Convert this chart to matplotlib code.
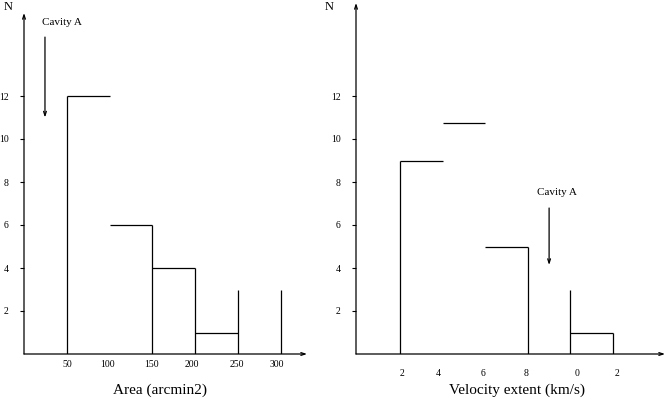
import matplotlib
matplotlib.use("Agg")
import matplotlib.pyplot as plt

plt.rcParams['font.family'] = ['Liberation Serif', 'DejaVu Serif']

# Left panel: area histogram (drawn as loose step segments)
area_bin_lo = [50, 100, 150, 200]
area_bin_hi = [100, 150, 200, 250]
area_counts = [12, 6, 4, 1]
area_vline_x = [50, 150, 200, 250, 300]
area_vline_h = [12, 6, 4, 3, 3]
area_tick_pos = [51, 98, 149, 196, 249, 295]
area_tick_lab = ['50', '100', '150', '200', '250', '300']

# Right panel: velocity extent histogram
vel_bin_lo = [12, 14, 16, 20]
vel_bin_hi = [14, 16, 18, 22]
vel_counts = [9, 10.75, 5, 1]
vel_vline_x = [12, 18, 20, 22]
vel_vline_h = [9, 5, 3, 1]
vel_tick_pos = [12.1, 13.8, 15.9, 17.9, 20.3, 22.2]
vel_tick_lab = ['2', '4', '6', '8', '0', '2']

y_ticks = [2, 4, 6, 8, 10, 12]

W, H = 666, 398
fig = plt.figure(figsize=(W / 100, H / 100), dpi=100)

ax1 = fig.add_axes([24 / W, 44 / H, 283 / W, 341 / H])
ax2 = fig.add_axes([356 / W, 44 / H, 309 / W, 351 / H])

ax1.set_xlim(0, 330.6)
ax1.set_ylim(0, 341 / 21.5)
ax2.set_xlim(9.934, 9.934 + 309 / 21.3)
ax2.set_ylim(0, 351 / 21.5)

lw = 0.9
arrow = dict(arrowstyle='->,head_length=0.3,head_width=0.1', lw=lw, color='black',
             shrinkA=0, shrinkB=0)

for ax in (ax1, ax2):
    for s in ax.spines.values():
        s.set_visible(False)
    ax.patch.set_visible(False)
    x0, x1 = ax.get_xlim()
    y0, y1 = ax.get_ylim()
    ax.annotate('', xy=(x1, 0), xytext=(x0, 0), arrowprops=arrow, annotation_clip=False)
    ax.annotate('', xy=(x0, y1), xytext=(x0, 0), arrowprops=arrow, annotation_clip=False)
    ax.set_yticks(y_ticks)
    ax.set_yticklabels([str(t) for t in y_ticks])
    ax.tick_params(axis='y', direction='out', length=3, width=0.8, pad=8, labelsize=7)

# left panel marks
ax1.hlines(area_counts, area_bin_lo, area_bin_hi, color='black', lw=lw)
ax1.vlines(area_vline_x, 0, area_vline_h, color='black', lw=lw)
ax1.set_xticks(area_tick_pos)
ax1.set_xticklabels(area_tick_lab)
ax1.tick_params(axis='x', length=0, pad=4, labelsize=7)
ax1.annotate('', xy=(24.5, 11.0), xytext=(24.5, 14.74), arrowprops=arrow)
ax1.text(44.4, 15.4, 'Cavity A', fontsize=8, ha='center', va='center')

# right panel marks
ax2.hlines(vel_counts, vel_bin_lo, vel_bin_hi, color='black', lw=lw)
ax2.vlines(vel_vline_x, 0, vel_vline_h, color='black', lw=lw)
ax2.set_xticks(vel_tick_pos)
ax2.set_xticklabels(vel_tick_lab)
ax2.tick_params(axis='x', length=0, pad=11, labelsize=7)
ax2.annotate('', xy=(19.0, 4.14), xytext=(19.0, 6.79), arrowprops=arrow)
ax2.text(19.37, 7.53, 'Cavity A', fontsize=8, ha='center', va='center')

fig.text(8 / W, 1 - 7 / H, 'N', fontsize=9, ha='center', va='center')
fig.text(329 / W, 1 - 7 / H, 'N', fontsize=9, ha='center', va='center')
fig.text(160 / W, 1 - 390 / H, 'Area (arcmin2)', fontsize=11, ha='center', va='center')
fig.text(517 / W, 1 - 390 / H, 'Velocity extent (km/s)', fontsize=11, ha='center', va='center')

fig.savefig('out.png', dpi=100)
